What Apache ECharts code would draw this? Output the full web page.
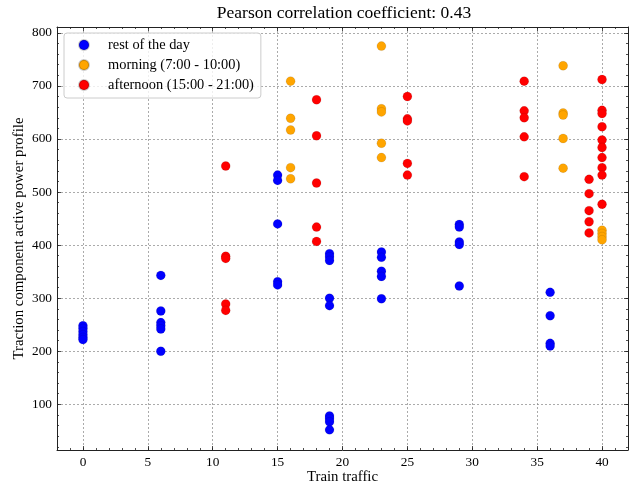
<!DOCTYPE html>
<html><head><meta charset="utf-8">
<script src="https://cdn.jsdelivr.net/npm/echarts@6/dist/echarts.min.js"></script>
<style>html,body{margin:0;padding:0;background:#fff}#c{width:631px;height:488px}</style>
</head><body><div id="c"></div>
<script>
// ---- data ----
const restX = [0,0,0,0,0,0, 6,6,6,6,6,6, 15,15,15,15,15, 19,19,19,19,19,19,19,19,19, 23,23,23,23,23, 29,29,29,29,29, 36,36,36,36];
const restY = [248,243,237,231,226,222, 343,276,254,248,242,200, 532,522,440,331,325, 384,378,371,300,286,78,73,67,52, 387,377,351,341,299, 439,434,406,401,323, 311,267,215,210];
const morningX = [16,16,16,16,16, 23,23,23,23,23, 37,37,37,37,37, 40,40,40,40];
const morningY = [709,639,617,546,525, 775,657,651,592,565, 738,649,645,601,545, 428,422,416,410];
const afternoonX = [11,11,11,11,11, 18,18,18,18,18, 25,25,25,25,25, 34,34,34,34,34, 39,39,39,39,39, 40,40,40,40,40,40,40,40,40,40];
const afternoonY = [549,379,375,289,277, 674,606,517,434,407, 680,638,634,554,532, 709,653,640,604,529, 524,497,465,444,423, 712,654,648,623,598,584,565,546,532,477];
const seriesNames = ['rest of the day','morning (7:00 - 10:00)','afternoon (15:00 - 21:00)'];
const xTicks = [0,5,10,15,20,25,30,35,40];
const yTicks = [100,200,300,400,500,600,700,800];
const xMinor = [-1,0,1,2,3,4,5,6,7,8,9,10,11,12,13,14,15,16,17,18,19,20,21,22,23,24,25,26,27,28,29,30,31,32,33,34,35,36,37,38,39,40,41];
const yMinor = [20,40,60,80,100,120,140,160,180,200,220,240,260,280,300,320,340,360,380,400,420,440,460,480,500,520,540,560,580,600,620,640,660,680,700,720,740,760,780,800];
const titleText = 'Pearson correlation coefficient: 0.43';
const xName = 'Train traffic';
const yName = 'Traction component active power profile';

const zip = (xs, ys) => xs.map((x, i) => [x, ys[i]]);
const FONT = 'Liberation Serif';
const X_MIN = -2, X_MAX = 42, Y_MIN = 14, Y_MAX = 811;

function xAx(pos, major, main) {
  return {
    type: 'value', position: pos, min: X_MIN, max: X_MAX,
    name: main ? xName : '', nameLocation: 'middle', nameGap: 20, nameMoveOverlap: false,
    nameTextStyle: {fontFamily: FONT, fontSize: 14.8, color: '#000'},
    axisLine: {show: major, onZero: false, lineStyle: {color: '#222', width: 1}},
    axisTick: {show: true, inside: true, length: major ? 4 : 2, customValues: major ? xTicks : xMinor, lineStyle: {color: '#222', width: 0.8}},
    axisLabel: {show: main, customValues: xTicks, fontFamily: FONT, fontSize: 13.3, color: '#000', margin: 6},
    splitLine: {show: main, lineStyle: {type: [2, 2], color: '#888', width: 0.7}},
    minorTick: {show: false}
  };
}
function yAx(pos, major, main) {
  return {
    type: 'value', position: pos, min: Y_MIN, max: Y_MAX,
    name: main ? yName : '', nameLocation: 'middle', nameGap: 30, nameRotate: 90, nameMoveOverlap: false,
    nameTextStyle: {fontFamily: FONT, fontSize: 14.8, color: '#000'},
    axisLine: {show: major, onZero: false, lineStyle: {color: '#222', width: 1}},
    axisTick: {show: true, inside: true, length: major ? 4 : 2, customValues: major ? yTicks : yMinor, lineStyle: {color: '#222', width: 0.8}},
    axisLabel: {show: main, customValues: yTicks, fontFamily: FONT, fontSize: 13.3, color: '#000', margin: 5},
    splitLine: {show: main, lineStyle: {type: [2, 2], color: '#888', width: 0.7}},
    minorTick: {show: false}
  };
}

const chart = echarts.init(document.getElementById('c'), null, {renderer: 'canvas'});
const colors = ['#0000ff', '#ffa500', '#ff0000'];
const datasets = [zip(restX, restY), zip(morningX, morningY), zip(afternoonX, afternoonY)];
chart.setOption({
  animation: false,
  backgroundColor: '#fff',
  grid: {left: 57, right: 3, top: 27, bottom: 38, containLabel: false, outerBoundsMode: 'none'},
  graphic: [{type: 'text', x: 344, y: 13, style: {text: titleText, fontFamily: FONT, fontSize: 17.5, fill: '#000', textAlign: 'center', textVerticalAlign: 'middle'}}],
  legend: {
    orient: 'vertical', left: 64, top: 33, padding: [5, 7, 6, 14],
    itemWidth: 10, itemHeight: 10, itemGap: 6, icon: 'circle',
    backgroundColor: 'rgba(255,255,255,0.8)', borderColor: '#cccccc', borderWidth: 1, borderRadius: 3,
    textStyle: {fontFamily: FONT, fontSize: 14.4, color: '#000', padding: [0, 0, 0, 14]},
    data: seriesNames
  },
  xAxis: [xAx('bottom', true, true), xAx('bottom', false, false), xAx('top', true, false), xAx('top', false, false)],
  yAxis: [yAx('left', true, true), yAx('left', false, false), yAx('right', true, false), yAx('right', false, false)],
  series: seriesNames.map((n, i) => ({
    name: n, type: 'scatter', xAxisIndex: 0, yAxisIndex: 0, symbolSize: 9,
    itemStyle: {color: colors[i], opacity: 1, borderColor: 'rgba(0,0,0,0.2)', borderWidth: 0.5},
    data: datasets[i]
  }))
});
</script></body></html>
